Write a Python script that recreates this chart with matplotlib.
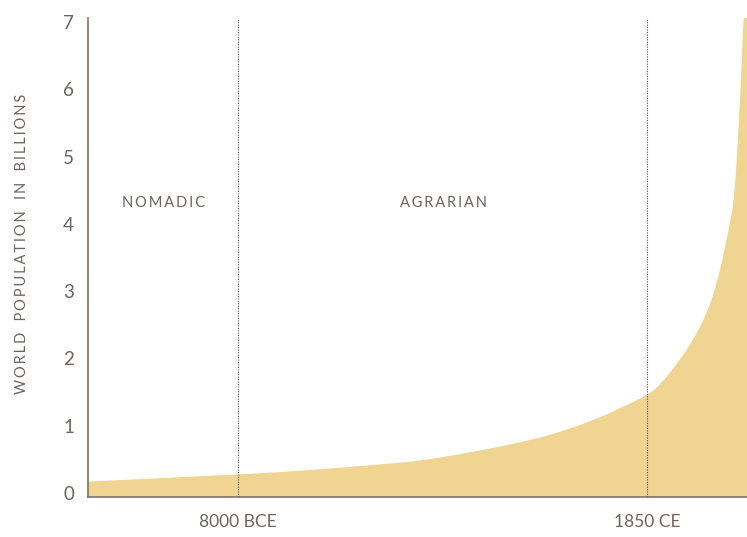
import matplotlib.pyplot as plt
from matplotlib.path import Path
from matplotlib.patches import PathPatch
import numpy as np

# timeline position (arbitrary units along the axis) and population in billions
pos = [0, 150, 233, 312, 330, 379, 445, 479, 512, 539, 559, 572, 592, 605,
       619, 629, 635, 642, 646.5, 650.3, 653.7, 655.3, 659]
pop = [0.17, 0.27, 0.35, 0.45, 0.475, 0.59, 0.79, 0.94, 1.12, 1.31, 1.45, 1.60, 1.98, 2.27,
       2.67, 3.12, 3.51, 4.01, 4.40, 5.35, 6.33, 7.06, 7.5]

era_pos = [150, 559]
era_labels = ['8000 BCE', '1850 CE']
period_names = ['NOMADIC', 'AGRARIAN']
period_pos = [75, 355]

txt = '#6f635b'
axis_col = '#7f726a'
fill_col = '#f0d592'
base = -0.06

plt.rcParams['font.family'] = ['Lato', 'DejaVu Sans']


def spaced(s, gap='\u2009'):
    return '   '.join(gap.join(w) for w in s.split(' '))


fig = plt.figure(figsize=(7.47, 5.37), dpi=100)
ax = fig.add_axes([88 / 747, 40 / 537, 659 / 747, 479 / 537])

# smooth outline: quadratic bezier segments with the read points as controls
verts = [(pos[0], base), (pos[0], pop[0])]
codes = [Path.MOVETO, Path.LINETO]
for i in range(1, len(pos) - 1):
    mid = ((pos[i] + pos[i + 1]) / 2, (pop[i] + pop[i + 1]) / 2)
    verts += [(pos[i], pop[i]), mid]
    codes += [Path.CURVE3, Path.CURVE3]
verts += [(pos[-1], pop[-1]), (pos[-1], base), (pos[0], base)]
codes += [Path.LINETO, Path.LINETO, Path.CLOSEPOLY]
ax.add_patch(PathPatch(Path(verts, codes), facecolor=fill_col, lw=0))

for p in era_pos:
    ax.axvline(p, color='#5e524a', lw=0.8, ls=(0, (1, 1.2)), zorder=3)

ax.set_xlim(0, 659)
ax.set_ylim(base, 7.06)

for s in ['top', 'right']:
    ax.spines[s].set_visible(False)
for s in ['left', 'bottom']:
    ax.spines[s].set_color(axis_col)
    ax.spines[s].set_linewidth(1.2)

ax.set_yticks(range(8))
ax.set_yticklabels([str(i) for i in range(8)], fontsize=13.5, color=txt)
ax.set_xticks(era_pos)
ax.set_xticklabels(era_labels, fontsize=12.5, color=txt)
ax.tick_params(axis='y', length=0, pad=10)
ax.tick_params(axis='x', length=0, pad=12)

for name, p in zip(period_names, period_pos):
    ax.text(p, 4.31, spaced(name), ha='center', va='center', fontsize=10.5, color=txt)

fig.text(22 / 747, 1 - 244 / 537, spaced('WORLD POPULATION IN BILLIONS'),
         rotation=90, ha='center', va='center', fontsize=10.5, color=txt)

fig.savefig('out.png', dpi=100)
